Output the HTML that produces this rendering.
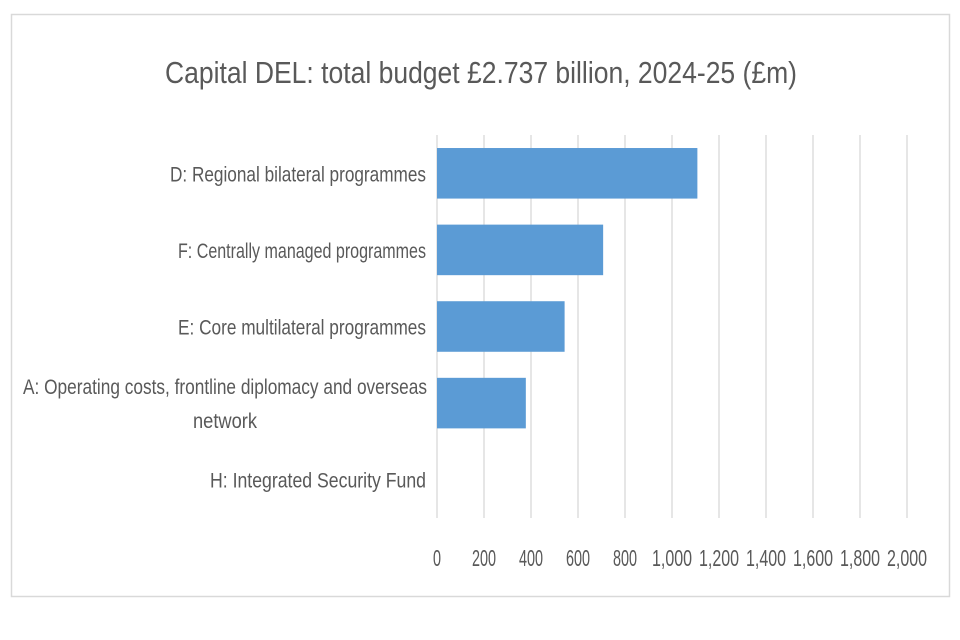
<!DOCTYPE html>
<html><head><meta charset="utf-8"><style>
html,body{margin:0;padding:0;background:#fff;}
svg{display:block;font-family:"Liberation Sans",sans-serif;}
</style></head><body>
<svg id="chart" width="960" height="640" viewBox="0 0 960 640">
<rect x="11.5" y="14.5" width="938" height="582" fill="#fff" stroke="#d9d9d9" stroke-width="1.5"/>
<text x="481" y="83" text-anchor="middle" font-size="31" fill="#595959" textLength="632" lengthAdjust="spacingAndGlyphs">Capital DEL: total budget £2.737 billion, 2024-25 (£m)</text>
<g id="grid"></g><g id="bars"></g><g id="ylabels"></g><g id="xticks"></g>
</svg>
<script>
const categories = ["D: Regional bilateral programmes","F: Centrally managed programmes","E: Core multilateral programmes","A: Operating costs, frontline diplomacy and overseas network","H: Integrated Security Fund"];
const values = [1108, 707, 543, 378, 0];
const tickValues = [0,200,400,600,800,1000,1200,1400,1600,1800,2000];
const tickLabels = ["0","200","400","600","800","1,000","1,200","1,400","1,600","1,800","2,000"];

const NS="http://www.w3.org/2000/svg";
const x0=437, x1=907, yTop=135, yBottom=518, maxV=2000;
const xs=v=>x0+(v/maxV)*(x1-x0);
const band=(yBottom-yTop)/categories.length;
const yc=i=>yTop+band*(i+0.5);
function mk(tag,attrs,parent){const e=document.createElementNS(NS,tag);for(const k in attrs)e.setAttribute(k,attrs[k]);parent.appendChild(e);return e;}
const grid=document.getElementById('grid'),bars=document.getElementById('bars'),yl=document.getElementById('ylabels'),xt=document.getElementById('xticks');
tickValues.forEach((v,i)=>{
  const l=mk('line',{x1:xs(v),x2:xs(v),y1:yTop,y2:yBottom,stroke:'#d9d9d9','stroke-width':1.3},grid);
  
  
  const s=tickLabels[i];
  const t=mk('text',{x:xs(v),y:566,'text-anchor':'middle','font-size':23,fill:'#595959',textLength:s.length*8,lengthAdjust:'spacingAndGlyphs'},xt);
  t.textContent=s;
  
  
});
const bh=band*0.66;
values.forEach((v,i)=>{
  if(v>0){
    const r=mk('rect',{x:x0,y:yc(i)-bh/2,width:xs(v)-x0,height:bh,fill:'#5b9bd5'},bars);
    
    
  }
});
const cw=8.0;
categories.forEach((c,i)=>{
  let lines=[c];
  if(c.length>45){const k=c.lastIndexOf(' ');lines=[c.slice(0,k),c.slice(k+1)];}
  if(lines.length===1){
    const t=mk('text',{x:426,y:yc(i)+8,'text-anchor':'end','font-size':21,fill:'#595959',textLength:c.length*cw,lengthAdjust:'spacingAndGlyphs'},yl);
    t.textContent=c;
    
    
  } else {
    lines.forEach((s,j)=>{
      const t=mk('text',{x:225,y:yc(i)-9+34*j,'text-anchor':'middle','font-size':21,fill:'#595959',textLength:j===0?404:64,lengthAdjust:'spacingAndGlyphs'},yl);
      t.textContent=s;
      
      
    });
  }
});
</script>
</body></html>
